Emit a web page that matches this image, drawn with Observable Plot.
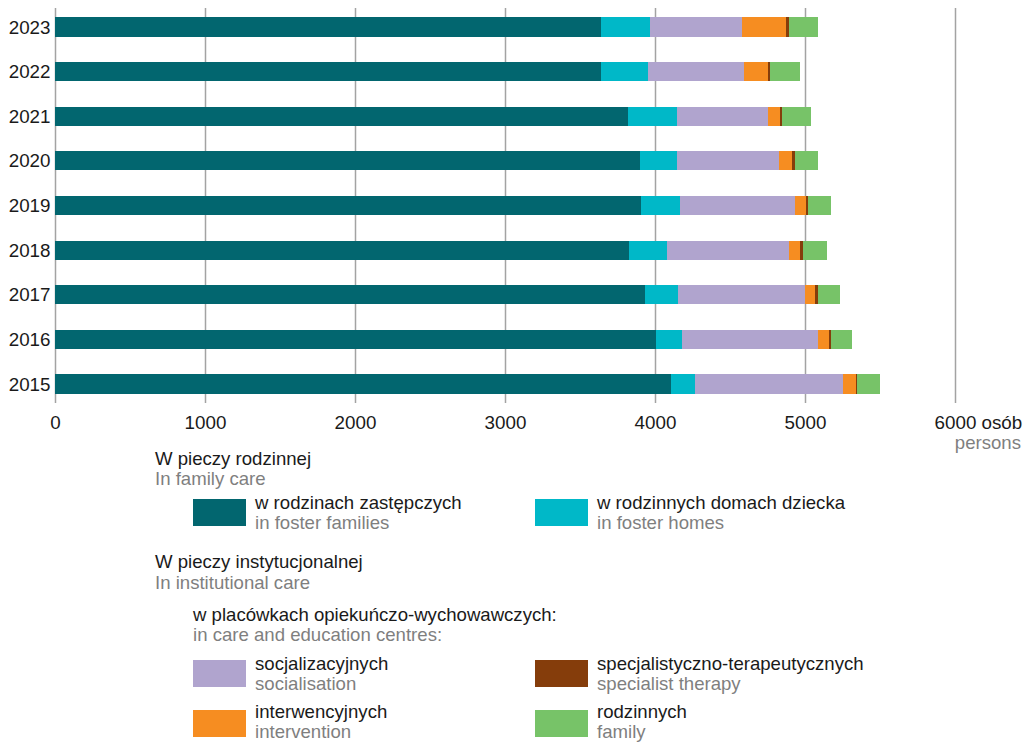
<!DOCTYPE html>
<html>
<head>
<meta charset="utf-8">
<script src="https://cdn.jsdelivr.net/npm/d3@7"></script>
<script src="https://cdn.jsdelivr.net/npm/@observablehq/plot@0.6"></script>
<style>
  html, body { margin: 0; padding: 0; background: #fff; }
  body { width: 1024px; height: 742px; position: relative; overflow: hidden;
         font-family: "Liberation Sans", Arial, sans-serif; }
  #chart { position: absolute; left: 0; top: 0; }
  .t { position: absolute; font-size: 18.6px; line-height: 16px; white-space: nowrap; color: #1a1a1a; }
  .g { color: #7f7f7f; }
  .sw { position: absolute; width: 53px; height: 27px; }
</style>
</head>
<body>
<div id="chart"></div>
<div id="legend"></div>
<script>
// ---- data ----
const years = ["2023", "2022", "2021", "2020", "2019", "2018", "2017", "2016", "2015"];
const fosterFamilies = [3640, 3640, 3820, 3900, 3907, 3827, 3933, 4007, 4107];
const fosterHomes    = [327, 313, 327, 247, 260, 253, 220, 173, 160];
const socialisation  = [613, 640, 606, 680, 766, 813, 847, 907, 986];
const intervention   = [293, 160, 80, 86, 74, 74, 67, 73, 87];
const specialist     = [20, 14, 14, 20, 13, 20, 20, 13, 7];
const familyCentres  = [194, 200, 193, 154, 153, 160, 146, 140, 153];

const categories = ["w rodzinach zastępczych", "w rodzinnych domach dziecka", "socjalizacyjnych",
                    "interwencyjnych", "specjalistyczno-terapeutycznych", "rodzinnych"];
const categoriesEn = ["in foster families", "in foster homes", "socialisation",
                      "intervention", "specialist therapy", "family"];
const colors = ["#02666f", "#00b8c8", "#b0a4ce", "#f68d21", "#853d0b", "#77c368"];
const xTicks = [0, 1000, 2000, 3000, 4000, 5000, 6000];

const series = [fosterFamilies, fosterHomes, socialisation, intervention, specialist, familyCentres];
const rows = [];
years.forEach((y, i) => {
  series.forEach((s, k) => rows.push({year: y, category: categories[k], value: s[i]}));
});

const FS = 18.8;
const chart = Plot.plot({
  width: 1024,
  height: 450,
  marginLeft: 55,
  marginRight: 69,
  marginTop: 8,
  marginBottom: 47,
  style: {fontFamily: "'Liberation Sans', Arial, sans-serif", fontSize: FS + "px", color: "#1a1a1a", background: "#fff", overflow: "visible"},
  x: {domain: [0, 6000], ticks: xTicks, label: null},
  y: {domain: years, paddingInner: 0.57, paddingOuter: 0.21, round: false, label: null},
  color: {domain: categories, range: colors},
  marks: [
    Plot.ruleX(xTicks, {stroke: "#a3a3a3", strokeWidth: 1.5}),
    Plot.barX(rows, {y: "year", x: "value", fill: "category", order: null, shapeRendering: "crispEdges"}),
    Plot.axisY({tickSize: 0, tickPadding: 5, fontSize: FS, fill: "#1a1a1a", label: null}),
    Plot.axisX({ticks: xTicks, tickSize: 0, tickPadding: 12, fontSize: FS, fill: "#1a1a1a", label: null, tickFormat: d => String(d)}),
    Plot.text(["osób"], {x: () => 6000, frameAnchor: "bottom", lineAnchor: "top", dy: 12, dx: 26, textAnchor: "start", text: d => d, fontSize: FS, fill: "#1a1a1a"})
  ]
});
document.getElementById("chart").appendChild(chart);

// ---- legend (HTML) ----
const legend = document.getElementById("legend");
function txt(s, x, cy, gray, right) {
  const d = document.createElement("div");
  d.className = "t" + (gray ? " g" : "");
  if (right) d.style.right = x + "px"; else d.style.left = x + "px";
  d.style.top = (cy - 8) + "px";
  d.textContent = s;
  legend.appendChild(d);
}
function sw(color, x, y) {
  const d = document.createElement("div");
  d.className = "sw";
  d.style.left = x + "px"; d.style.top = y + "px"; d.style.background = color;
  legend.appendChild(d);
}
txt("persons", 3, 443, true, true);
txt("W pieczy rodzinnej", 155, 459, false);
txt("In family care", 155, 479, true);
const items = [
  {k: 0, x: 193, y: 499, off: 0},
  {k: 1, x: 535, y: 499, off: 0},
  {k: 2, x: 193, y: 660, off: 0},
  {k: 4, x: 535, y: 660, off: 0},
  {k: 3, x: 193, y: 710, off: -2},
  {k: 5, x: 535, y: 710, off: -2}
];
items.forEach(it => {
  sw(colors[it.k], it.x, it.y);
  txt(categories[it.k], it.x + 62, it.y + 4 + it.off, false);
  txt(categoriesEn[it.k], it.x + 62, it.y + 24 + it.off, true);
});
txt("W pieczy instytucjonalnej", 155, 562, false);
txt("In institutional care", 155, 583, true);
txt("w placówkach opiekuńczo-wychowawczych:", 193, 615, false);
txt("in care and education centres:", 193, 635, true);
</script>
</body>
</html>
